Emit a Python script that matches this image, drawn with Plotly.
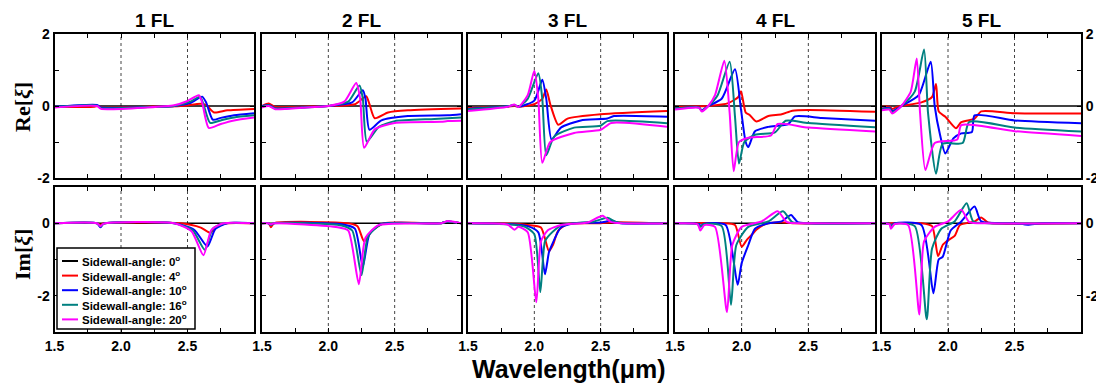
import plotly.graph_objects as go

# ---------------- data (wavelength in um, value) ----------------
panels = ["1 FL", "2 FL", "3 FL", "4 FL", "5 FL"]
angles = [0, 4, 10, 16, 20]
colors = ["#000000", "#ff0000", "#0000ff", "#008080", "#ff00ff"]

zero_x = [1.5, 3.0]
zero_y = [0.0, 0.0]

# Re[xi], per panel: series for 4, 10, 16, 20 degrees
re_fl1 = [
    [(1.5,-0.02),(1.8,-0.02),(1.83,0.0),(1.86,-0.04),(2.2,-0.02),(2.45,0.0),(2.6,0.06),(2.64,0.03),(2.7,-0.18),(2.8,-0.12),(3.0,-0.08)],
    [(1.5,-0.02),(1.82,0.03),(1.85,-0.04),(2.2,-0.03),(2.4,0.0),(2.52,0.08),(2.61,0.26),(2.64,0.1),(2.69,-0.38),(2.75,-0.33),(2.85,-0.26),(3.0,-0.2)],
    [(1.5,-0.03),(1.82,0.01),(1.85,-0.06),(2.2,-0.03),(2.4,0.0),(2.52,0.12),(2.595,0.26),(2.62,0.05),(2.67,-0.47),(2.75,-0.40),(2.85,-0.32),(3.0,-0.26)],
    [(1.5,-0.04),(1.82,0.0),(1.85,-0.08),(2.2,-0.04),(2.4,0.02),(2.5,0.14),(2.585,0.30),(2.61,0.1),(2.66,-0.61),(2.75,-0.50),(2.85,-0.40),(3.0,-0.32)],
]
re_fl2 = [
    [(1.5,0.0),(1.55,0.07),(1.6,-0.03),(1.8,-0.02),(2.0,0.0),(2.2,0.05),(2.285,0.27),(2.31,0.05),(2.35,-0.34),(2.45,-0.18),(2.6,-0.12),(3.0,-0.07)],
    [(1.5,0.0),(1.55,0.03),(1.6,-0.06),(1.8,-0.04),(2.0,0.0),(2.18,0.1),(2.26,0.44),(2.28,0.2),(2.31,-0.66),(2.4,-0.4),(2.6,-0.28),(2.9,-0.26),(3.0,-0.23)],
    [(1.5,-0.02),(1.55,0.02),(1.6,-0.07),(1.8,-0.04),(2.0,0.0),(2.15,0.12),(2.235,0.57),(2.26,0.2),(2.29,-0.99),(2.38,-0.58),(2.5,-0.42),(2.8,-0.36),(3.0,-0.32)],
    [(1.5,-0.04),(1.55,0.0),(1.6,-0.09),(1.8,-0.05),(2.0,0.0),(2.12,0.12),(2.21,0.64),(2.24,0.2),(2.27,-1.16),(2.35,-0.65),(2.5,-0.47),(2.85,-0.44),(2.9,-0.42),(3.0,-0.41)],
]
re_fl3 = [
    [(1.5,-0.05),(1.8,-0.02),(1.85,0.0),(1.88,-0.02),(2.0,0.05),(2.06,0.2),(2.09,0.46),(2.12,0.05),(2.18,-0.52),(2.25,-0.35),(2.5,-0.23),(3.0,-0.14)],
    [(1.5,-0.08),(1.8,-0.01),(1.85,0.03),(1.88,-0.02),(2.0,0.15),(2.06,0.73),(2.09,0.2),(2.13,-0.93),(2.2,-0.6),(2.35,-0.4),(2.55,-0.35),(2.6,-0.28),(3.0,-0.30)],
    [(1.5,-0.1),(1.8,-0.01),(1.85,0.03),(1.88,-0.02),(1.95,0.2),(2.03,0.91),(2.06,0.2),(2.09,-1.37),(2.15,-0.85),(2.3,-0.6),(2.5,-0.55),(2.55,-0.42),(3.0,-0.48)],
    [(1.5,-0.14),(1.8,-0.02),(1.85,0.04),(1.88,-0.03),(1.95,0.3),(2.0,0.98),(2.03,0.2),(2.06,-1.58),(2.12,-1.0),(2.3,-0.75),(2.5,-0.66),(2.58,-0.47),(3.0,-0.58)],
]
re_fl4 = [
    [(1.5,-0.03),(1.7,-0.01),(1.75,0.0),(1.9,0.08),(1.975,0.25),(1.995,0.41),(2.03,-0.18),(2.06,-0.25),(2.11,-0.43),(2.2,-0.28),(2.3,-0.23),(2.38,-0.13),(2.5,-0.11),(3.0,-0.16)],
    [(1.5,-0.07),(1.68,-0.04),(1.7,-0.12),(1.75,0.0),(1.85,0.2),(1.95,1.02),(1.995,-0.1),(2.03,-1.0),(2.05,-1.14),(2.1,-0.7),(2.2,-0.58),(2.35,-0.5),(2.4,-0.29),(2.6,-0.33),(3.0,-0.41)],
    [(1.5,-0.07),(1.68,-0.04),(1.7,-0.13),(1.75,0.0),(1.82,0.3),(1.91,1.23),(1.95,-0.3),(1.98,-1.6),(2.02,-1.0),(2.1,-0.8),(2.25,-0.73),(2.33,-0.41),(2.5,-0.47),(3.0,-0.59)],
    [(1.5,-0.1),(1.68,-0.05),(1.7,-0.15),(1.75,0.0),(1.8,0.3),(1.87,1.26),(1.91,-0.2),(1.94,-1.81),(1.98,-1.0),(2.05,-0.88),(2.22,-0.82),(2.27,-0.5),(2.5,-0.6),(3.0,-0.71)],
]
re_fl5 = [
    [(1.5,-0.02),(1.56,-0.02),(1.58,-0.08),(1.62,-0.02),(1.8,0.1),(1.88,0.25),(1.91,0.61),(1.93,-0.15),(1.98,-0.3),(2.06,-0.62),(2.1,-0.45),(2.2,-0.35),(2.25,-0.15),(2.5,-0.2),(3.0,-0.21)],
    [(1.5,-0.08),(1.56,-0.05),(1.58,-0.14),(1.65,0.0),(1.78,0.3),(1.87,1.23),(1.9,0.0),(1.94,-0.8),(1.98,-1.32),(2.04,-0.9),(2.1,-0.76),(2.18,-0.72),(2.2,-0.26),(2.5,-0.4),(3.0,-0.48)],
    [(1.5,-0.1),(1.56,-0.07),(1.58,-0.17),(1.65,0.0),(1.75,0.4),(1.82,1.57),(1.85,-0.2),(1.91,-1.88),(1.96,-1.05),(2.11,-1.03),(2.16,-0.44),(2.5,-0.6),(3.0,-0.71)],
    [(1.5,-0.12),(1.56,-0.1),(1.58,-0.21),(1.65,0.0),(1.72,0.4),(1.765,1.32),(1.79,-0.2),(1.83,-1.78),(1.9,-1.03),(2.07,-0.93),(2.1,-0.53),(2.5,-0.7),(3.0,-0.83)],
]

# Im[xi], per panel: series for 4, 10, 16, 20 degrees
im_fl1 = [
    [(1.5,0),(1.82,0),(1.845,-0.04),(1.87,0),(2.45,0),(2.6,-0.12),(2.67,-0.26),(2.73,-0.08),(2.8,0),(3.0,0)],
    [(1.5,0),(1.82,0),(1.845,-0.11),(1.87,-0.01),(2.4,0),(2.55,-0.18),(2.65,-0.64),(2.71,-0.15),(2.8,0),(3.0,0)],
    [(1.5,0),(1.82,0),(1.845,-0.09),(1.87,-0.01),(2.4,0),(2.54,-0.2),(2.63,-0.73),(2.69,-0.15),(2.78,0),(3.0,0)],
    [(1.5,0),(1.82,0),(1.845,-0.08),(1.87,-0.01),(2.4,0),(2.53,-0.22),(2.62,-0.88),(2.68,-0.18),(2.77,0),(3.0,0)],
]
im_fl2 = [
    [(1.5,0),(1.55,0),(1.567,-0.11),(1.59,0),(2.15,0),(2.22,-0.08),(2.27,-0.5),(2.33,-0.2),(2.42,0),(2.85,0.0),(2.9,0.05),(3.0,0)],
    [(1.5,0),(1.55,0),(1.567,-0.05),(1.59,0),(2.1,-0.03),(2.2,-0.15),(2.26,-1.2),(2.31,-0.3),(2.4,-0.02),(2.85,0.0),(2.9,0.05),(3.0,0)],
    [(1.5,0),(1.55,0),(1.567,-0.05),(1.59,0),(2.1,-0.06),(2.18,-0.2),(2.25,-1.43),(2.3,-0.35),(2.4,-0.03),(2.85,0.0),(2.9,0.05),(3.0,0)],
    [(1.5,0),(1.55,0),(1.567,-0.03),(1.59,0),(2.07,-0.11),(2.15,-0.2),(2.23,-1.68),(2.28,-0.4),(2.38,-0.05),(2.85,0.0),(2.9,0.06),(3.0,0)],
]
im_fl3 = [
    [(1.5,0),(1.8,-0.01),(1.95,-0.05),(2.05,-0.12),(2.11,-0.77),(2.14,-0.6),(2.18,-0.2),(2.25,-0.02),(2.5,0),(2.6,0.03),(3.0,0)],
    [(1.5,0),(1.8,-0.02),(1.95,-0.08),(2.03,-0.25),(2.08,-1.41),(2.11,-0.8),(2.13,-0.62),(2.2,-0.12),(2.3,0),(2.5,0.02),(2.58,0.07),(2.65,0.0),(3.0,0)],
    [(1.5,0),(1.8,-0.03),(1.93,-0.1),(2.0,-0.3),(2.045,-1.9),(2.08,-0.5),(2.12,-0.3),(2.2,-0.06),(2.3,0),(2.45,0.05),(2.55,0.15),(2.62,0.03),(3.0,0)],
    [(1.5,0),(1.8,-0.04),(1.85,-0.18),(1.88,-0.1),(1.95,-0.25),(2.015,-2.18),(2.05,-0.5),(2.1,-0.2),(2.2,-0.05),(2.4,0.02),(2.515,0.21),(2.58,0.03),(3.0,0)],
]
im_fl4 = [
    [(1.5,0),(1.85,0),(1.95,-0.05),(2.0,-0.65),(2.04,-0.45),(2.08,-0.3),(2.11,-0.18),(2.18,-0.02),(2.3,0.03),(2.4,0),(3.0,0)],
    [(1.5,0),(1.68,-0.02),(1.69,-0.08),(1.72,-0.01),(1.88,-0.05),(1.97,-1.7),(2.0,-1.1),(2.05,-0.6),(2.1,-0.15),(2.2,0),(2.3,0.05),(2.37,0.23),(2.42,0.03),(2.5,0),(3.0,0)],
    [(1.5,0),(1.67,-0.02),(1.69,-0.1),(1.72,-0.02),(1.85,-0.08),(1.92,-2.25),(1.96,-0.6),(2.05,-0.1),(2.2,0.05),(2.31,0.33),(2.38,0.03),(2.5,0),(3.0,0)],
    [(1.5,0),(1.67,-0.03),(1.69,-0.2),(1.72,-0.05),(1.8,-0.1),(1.89,-2.45),(1.93,-0.6),(2.0,-0.1),(2.15,0.05),(2.27,0.33),(2.34,0.03),(2.5,0),(3.0,0)],
]
im_fl5 = [
    [(1.5,0),(1.8,0),(1.88,-0.08),(1.925,-0.91),(1.96,-0.6),(2.0,-0.47),(2.05,-0.35),(2.09,-0.05),(2.2,0.05),(2.25,0.16),(2.3,0.02),(3.0,0)],
    [(1.5,0),(1.56,-0.02),(1.57,-0.06),(1.6,0),(1.8,-0.05),(1.89,-1.93),(1.93,-1.0),(1.96,-0.93),(2.02,-0.2),(2.1,0.05),(2.2,0.46),(2.25,0.05),(2.5,0),(2.6,-0.04),(2.7,0),(3.0,0)],
    [(1.5,0),(1.56,-0.02),(1.57,-0.08),(1.6,-0.01),(1.75,-0.08),(1.84,-2.65),(1.88,-0.7),(1.95,-0.15),(2.05,0.05),(2.14,0.55),(2.19,0.05),(2.3,0),(3.0,0)],
    [(1.5,0),(1.56,-0.03),(1.57,-0.15),(1.6,-0.02),(1.7,-0.05),(1.785,-2.52),(1.82,-0.5),(1.9,-0.1),(2.0,0.05),(2.1,0.37),(2.16,0.03),(2.3,0),(3.0,0)],
]

re_data = [re_fl1, re_fl2, re_fl3, re_fl4, re_fl5]
im_data = [im_fl1, im_fl2, im_fl3, im_fl4, im_fl5]

x_tickvals = [1.5, 1.75, 2.0, 2.25, 2.5, 2.75, 3.0]
x_ticktext = ["1.5", "", "2.0", "", "2.5", "", ""]
re_tickvals = [-2, -1, 0, 1, 2]
re_ticktext = ["-2", "", "0", "", "2"]
im_tickvals = [-3, -2, -1, 0, 1]
im_ticktext = ["", "-2", "", "0", ""]

# ---------------- layout geometry ----------------
# the page body has an 8px margin, so the figure is drawn 8px smaller and all
# positions below are given in window pixels and shifted by OFF
OFF = 8
W, H = 1104 - OFF, 387 - OFF


def px(v):
    return (v - OFF) / W


def py(v):
    return 1 - (v - OFF) / H


# frame centre lines (window pixels); plot domains are inset by 1px because
# the axis lines are drawn just outside the domain
col_px = [(53.5, 255), (261, 462), (467, 668), (674, 876), (880.5, 1082)]
row_px = [(33, 179), (186, 333)]

fig = go.Figure()
layout = dict(width=W, height=H, margin=dict(l=0, r=0, t=0, b=0, autoexpand=False),
              paper_bgcolor="white", plot_bgcolor="white", showlegend=False)
shapes = []
annotations = []
tickfont = dict(family="Arial", size=14, color="black", weight="bold")

for r in range(2):
    for c in range(5):
        n = r * 5 + c + 1
        xs = "" if n == 1 else str(n)
        xd = [px(col_px[c][0] + 1), px(col_px[c][1] - 1)]
        yd = [py(row_px[r][1] - 1), py(row_px[r][0] + 1)]
        layout["xaxis" + xs] = dict(
            domain=xd, anchor="y" + xs, range=[1.5, 3.0], automargin=False,
            tickmode="array", tickvals=x_tickvals, ticktext=x_ticktext,
            ticks="inside", ticklen=4, tickwidth=1, tickcolor="black",
            showticklabels=(r == 1), tickfont=tickfont,
            showline=True, linecolor="black", linewidth=2, mirror="ticks",
            showgrid=False, zeroline=False)
        side = "right" if c == 4 else "left"
        layout["yaxis" + xs] = dict(
            domain=yd, anchor="x" + xs, automargin=False,
            range=[-2, 2] if r == 0 else [-3, 1],
            tickmode="array",
            tickvals=re_tickvals if r == 0 else im_tickvals,
            ticktext=re_ticktext if r == 0 else im_ticktext,
            ticks="inside", ticklen=4, tickwidth=1, tickcolor="black",
            showticklabels=(c in (0, 4)), side=side, tickfont=tickfont,
            showline=True, linecolor="black", linewidth=2, mirror="ticks",
            showgrid=False, zeroline=False)
        for gx in (2.0, 2.5):
            shapes.append(dict(type="line", xref="x" + xs, yref="y" + xs + " domain",
                               x0=gx, x1=gx, y0=0, y1=1, layer="below",
                               line=dict(color="#444", width=1, dash="dot")))
        data = re_data[c] if r == 0 else im_data[c]
        fig.add_trace(go.Scatter(x=zero_x, y=zero_y, mode="lines",
                                 line=dict(color=colors[0], width=1.5),
                                 xaxis="x" + xs, yaxis="y" + xs,
                                 name="Sidewall-angle: %d" % angles[0]))
        for k, series in enumerate(data):
            fig.add_trace(go.Scatter(
                x=[p[0] for p in series], y=[p[1] for p in series], mode="lines",
                line=dict(color=colors[k + 1], width=2, shape="spline", smoothing=0.6),
                xaxis="x" + xs, yaxis="y" + xs,
                name="Sidewall-angle: %d" % angles[k + 1]))

# legend box inside the lower-left panel
shapes.append(dict(type="rect", xref="paper", yref="paper",
                   x0=px(57), x1=px(195), y0=py(329), y1=py(248),
                   fillcolor="white", line=dict(color="black", width=1.5), layer="above"))
for i, a in enumerate(angles):
    yy = py(261 + i * 14.6)
    shapes.append(dict(type="line", xref="paper", yref="paper",
                       x0=px(62), x1=px(78), y0=yy, y1=yy, layer="above",
                       line=dict(color=colors[i], width=2)))
    annotations.append(dict(text="<b>Sidewall-angle: %d<sup>o</sup></b>" % a,
                            x=px(80), y=yy, xref="paper", yref="paper", showarrow=False,
                            xanchor="left", yanchor="middle",
                            font=dict(family="Arial", size=11.5, color="black")))

for c, t in enumerate(panels):
    annotations.append(dict(text="<b>%s</b>" % t, x=px((col_px[c][0] + col_px[c][1]) / 2),
                            y=1.0, xref="paper", yref="paper", showarrow=False,
                            xanchor="center", yanchor="top",
                            font=dict(family="Arial", size=19, color="black")))
annotations.append(dict(text="<b>Re[<i>ξ</i>]</b>", x=px(22), y=py(107), xref="paper",
                        yref="paper", showarrow=False, textangle=-90,
                        xanchor="center", yanchor="middle",
                        font=dict(family="Liberation Serif", size=22, color="black")))
annotations.append(dict(text="<b>Im[<i>ξ</i>]</b>", x=px(22), y=py(255), xref="paper",
                        yref="paper", showarrow=False, textangle=-90,
                        xanchor="center", yanchor="middle",
                        font=dict(family="Liberation Serif", size=22, color="black")))
annotations.append(dict(text="<b>Wavelength(μm)</b>", x=px(569), y=py(369), xref="paper",
                        yref="paper", showarrow=False, xanchor="center", yanchor="middle",
                        font=dict(family="Arial", size=25, color="black")))

layout["shapes"] = shapes
layout["annotations"] = annotations
fig.update_layout(**layout)
fig.write_html("out.html")
